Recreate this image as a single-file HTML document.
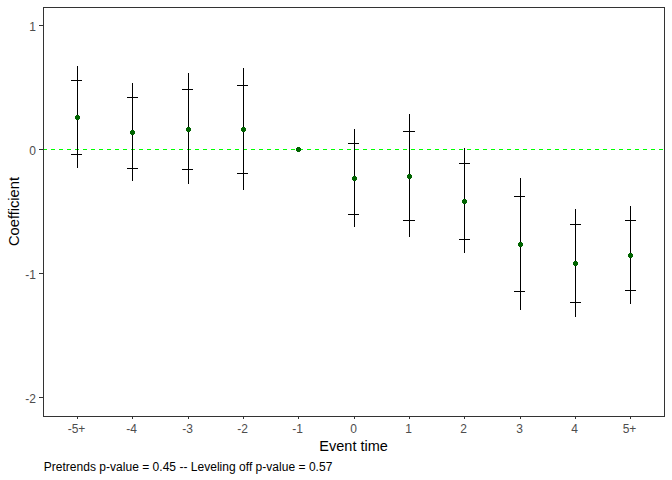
<!DOCTYPE html>
<html><head><meta charset="utf-8"><title>Event study plot</title>
<style>
html,body{margin:0;padding:0;background:#fff;}
body{width:672px;height:480px;position:relative;overflow:hidden;font-family:"Liberation Sans",sans-serif;}
.t{position:absolute;font-size:12px;line-height:14px;color:#4d4d4d;white-space:nowrap;}
.xt{text-align:center;}
.yt{text-align:right;}
.ttl{position:absolute;font-size:14.5px;line-height:17px;color:#000;white-space:nowrap;}
.cap{position:absolute;font-size:12px;line-height:14px;color:#000;white-space:nowrap;left:43.7px;top:459.8px;letter-spacing:0.025px;}
</style></head><body>
<svg width="672" height="480" viewBox="0 0 672 480" shape-rendering="crispEdges" style="position:absolute;left:0;top:0"><g fill="#00ff00"><rect x="44" y="149" width="3" height="1"/><rect x="51" y="149" width="4" height="1"/><rect x="59" y="149" width="4" height="1"/><rect x="67" y="149" width="4" height="1"/><rect x="75" y="149" width="4" height="1"/><rect x="83" y="149" width="4" height="1"/><rect x="91" y="149" width="4" height="1"/><rect x="99" y="149" width="4" height="1"/><rect x="107" y="149" width="4" height="1"/><rect x="115" y="149" width="4" height="1"/><rect x="123" y="149" width="4" height="1"/><rect x="131" y="149" width="4" height="1"/><rect x="139" y="149" width="4" height="1"/><rect x="147" y="149" width="4" height="1"/><rect x="155" y="149" width="4" height="1"/><rect x="163" y="149" width="4" height="1"/><rect x="171" y="149" width="4" height="1"/><rect x="179" y="149" width="4" height="1"/><rect x="187" y="149" width="4" height="1"/><rect x="195" y="149" width="4" height="1"/><rect x="203" y="149" width="4" height="1"/><rect x="211" y="149" width="4" height="1"/><rect x="219" y="149" width="4" height="1"/><rect x="227" y="149" width="4" height="1"/><rect x="235" y="149" width="4" height="1"/><rect x="243" y="149" width="4" height="1"/><rect x="251" y="149" width="4" height="1"/><rect x="259" y="149" width="4" height="1"/><rect x="267" y="149" width="4" height="1"/><rect x="275" y="149" width="4" height="1"/><rect x="283" y="149" width="4" height="1"/><rect x="291" y="149" width="4" height="1"/><rect x="299" y="149" width="4" height="1"/><rect x="307" y="149" width="4" height="1"/><rect x="315" y="149" width="4" height="1"/><rect x="323" y="149" width="4" height="1"/><rect x="331" y="149" width="4" height="1"/><rect x="339" y="149" width="4" height="1"/><rect x="347" y="149" width="4" height="1"/><rect x="355" y="149" width="4" height="1"/><rect x="363" y="149" width="4" height="1"/><rect x="371" y="149" width="4" height="1"/><rect x="379" y="149" width="4" height="1"/><rect x="387" y="149" width="4" height="1"/><rect x="395" y="149" width="4" height="1"/><rect x="403" y="149" width="4" height="1"/><rect x="411" y="149" width="4" height="1"/><rect x="419" y="149" width="4" height="1"/><rect x="427" y="149" width="4" height="1"/><rect x="435" y="149" width="4" height="1"/><rect x="443" y="149" width="4" height="1"/><rect x="451" y="149" width="4" height="1"/><rect x="459" y="149" width="4" height="1"/><rect x="467" y="149" width="4" height="1"/><rect x="475" y="149" width="4" height="1"/><rect x="483" y="149" width="4" height="1"/><rect x="491" y="149" width="4" height="1"/><rect x="499" y="149" width="4" height="1"/><rect x="507" y="149" width="4" height="1"/><rect x="515" y="149" width="4" height="1"/><rect x="523" y="149" width="4" height="1"/><rect x="531" y="149" width="4" height="1"/><rect x="539" y="149" width="4" height="1"/><rect x="547" y="149" width="4" height="1"/><rect x="555" y="149" width="4" height="1"/><rect x="563" y="149" width="4" height="1"/><rect x="571" y="149" width="4" height="1"/><rect x="579" y="149" width="4" height="1"/><rect x="587" y="149" width="4" height="1"/><rect x="595" y="149" width="4" height="1"/><rect x="603" y="149" width="4" height="1"/><rect x="611" y="149" width="4" height="1"/><rect x="619" y="149" width="4" height="1"/><rect x="627" y="149" width="4" height="1"/><rect x="635" y="149" width="4" height="1"/><rect x="643" y="149" width="4" height="1"/><rect x="651" y="149" width="4" height="1"/><rect x="659" y="149" width="4" height="1"/></g><g fill="#000"><rect x="77" y="66" width="1" height="102"/><rect x="71" y="80" width="11" height="1"/><rect x="71" y="154" width="11" height="1"/><rect x="132" y="83" width="1" height="98"/><rect x="127" y="97" width="11" height="1"/><rect x="127" y="168" width="11" height="1"/><rect x="188" y="73" width="1" height="111"/><rect x="182" y="89" width="11" height="1"/><rect x="182" y="169" width="11" height="1"/><rect x="243" y="68" width="1" height="122"/><rect x="237" y="85" width="11" height="1"/><rect x="237" y="173" width="11" height="1"/><rect x="354" y="129" width="1" height="98"/><rect x="348" y="143" width="11" height="1"/><rect x="348" y="214" width="11" height="1"/><rect x="409" y="114" width="1" height="123"/><rect x="403" y="131" width="12" height="1"/><rect x="403" y="220" width="12" height="1"/><rect x="464" y="148" width="1" height="105"/><rect x="459" y="163" width="11" height="1"/><rect x="459" y="239" width="11" height="1"/><rect x="520" y="178" width="1" height="132"/><rect x="514" y="196" width="11" height="1"/><rect x="514" y="291" width="11" height="1"/><rect x="575" y="209" width="1" height="108"/><rect x="570" y="224" width="11" height="1"/><rect x="570" y="302" width="11" height="1"/><rect x="630" y="206" width="1" height="98"/><rect x="625" y="220" width="11" height="1"/><rect x="625" y="290" width="11" height="1"/></g><g fill="#006400"><rect x="76" y="115" width="3" height="5"/><rect x="75" y="116" width="5" height="3"/><rect x="131" y="130" width="3" height="5"/><rect x="130" y="131" width="5" height="3"/><rect x="187" y="127" width="3" height="5"/><rect x="186" y="128" width="5" height="3"/><rect x="242" y="127" width="3" height="5"/><rect x="241" y="128" width="5" height="3"/><rect x="297" y="147" width="3" height="5"/><rect x="296" y="148" width="5" height="3"/><rect x="353" y="176" width="3" height="5"/><rect x="352" y="177" width="5" height="3"/><rect x="408" y="174" width="3" height="5"/><rect x="407" y="175" width="5" height="3"/><rect x="463" y="199" width="3" height="5"/><rect x="462" y="200" width="5" height="3"/><rect x="519" y="242" width="3" height="5"/><rect x="518" y="243" width="5" height="3"/><rect x="574" y="261" width="3" height="5"/><rect x="573" y="262" width="5" height="3"/><rect x="629" y="253" width="3" height="5"/><rect x="628" y="254" width="5" height="3"/></g><g fill="#333"><rect x="43" y="7" width="622" height="1"/><rect x="43" y="416" width="622" height="1"/><rect x="43" y="7" width="1" height="410"/><rect x="664" y="7" width="1" height="410"/><rect x="39" y="25" width="4" height="1"/><rect x="39" y="149" width="4" height="1"/><rect x="39" y="273" width="4" height="1"/><rect x="39" y="397" width="4" height="1"/><rect x="77" y="417" width="1" height="2"/><rect x="132" y="417" width="1" height="2"/><rect x="188" y="417" width="1" height="2"/><rect x="243" y="417" width="1" height="2"/><rect x="298" y="417" width="1" height="2"/><rect x="354" y="417" width="1" height="2"/><rect x="409" y="417" width="1" height="2"/><rect x="464" y="417" width="1" height="2"/><rect x="520" y="417" width="1" height="2"/><rect x="575" y="417" width="1" height="2"/><rect x="630" y="417" width="1" height="2"/></g></svg>
<div class="t xt" style="left:46.5px;top:421.8px;width:60px">-5+</div><div class="t xt" style="left:101.5px;top:421.8px;width:60px">-4</div><div class="t xt" style="left:157.5px;top:421.8px;width:60px">-3</div><div class="t xt" style="left:212.5px;top:421.8px;width:60px">-2</div><div class="t xt" style="left:267.5px;top:421.8px;width:60px">-1</div><div class="t xt" style="left:323.5px;top:421.8px;width:60px">0</div><div class="t xt" style="left:378.5px;top:421.8px;width:60px">1</div><div class="t xt" style="left:433.5px;top:421.8px;width:60px">2</div><div class="t xt" style="left:489.5px;top:421.8px;width:60px">3</div><div class="t xt" style="left:544.5px;top:421.8px;width:60px">4</div><div class="t xt" style="left:599.5px;top:421.8px;width:60px">5+</div><div class="t yt" style="left:0;top:19.5px;width:36px">1</div><div class="t yt" style="left:0;top:143.5px;width:36px">0</div><div class="t yt" style="left:0;top:267.5px;width:36px">-1</div><div class="t yt" style="left:0;top:391.5px;width:36px">-2</div>
<div class="ttl" style="left:253.6px;top:437.7px;width:200px;text-align:center">Event time</div>
<div class="ttl" style="left:-85.9px;top:202.7px;width:200px;text-align:center;font-size:14.67px;transform:rotate(-90deg);transform-origin:50% 50%">Coefficient</div>
<div class="cap">Pretrends p-value = 0.45 -- Leveling off p-value = 0.57</div>
</body></html>
